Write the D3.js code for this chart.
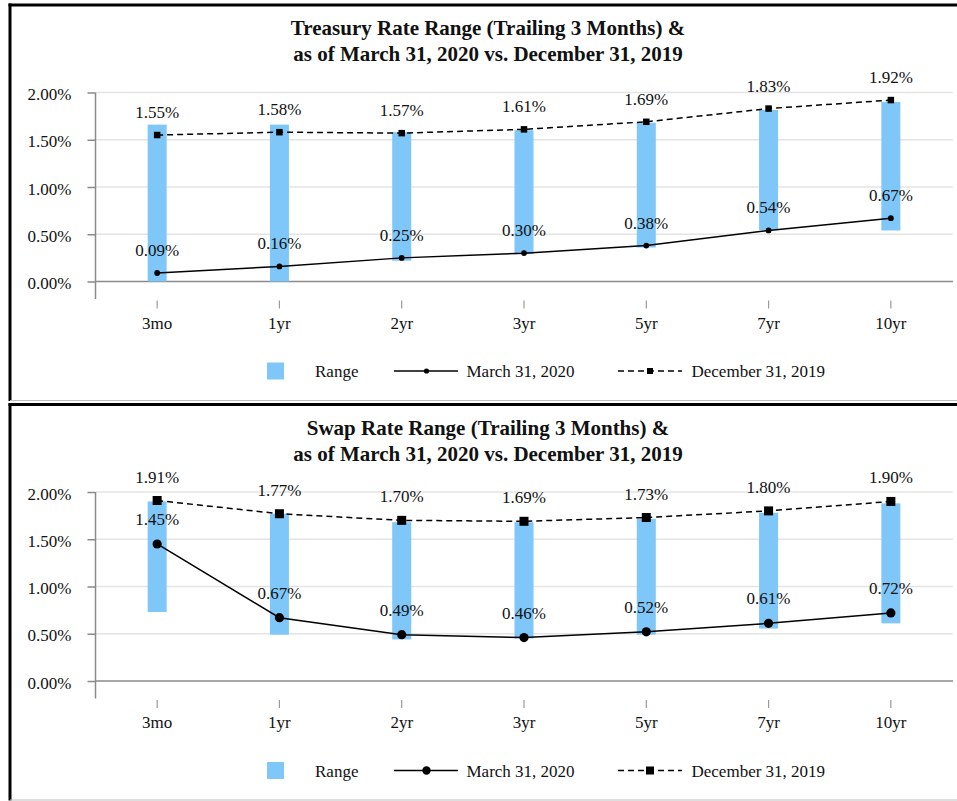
<!DOCTYPE html>
<html>
<head>
<meta charset="utf-8">
<script src="https://cdn.jsdelivr.net/npm/d3@7"></script>
<style>
  html, body { margin: 0; padding: 0; background: #fff; }
  svg { display: block; }
  text { font-family: "Liberation Serif", "Times New Roman", serif; fill: #111; }
</style>
</head>
<body>
<svg id="chart" width="957" height="801"></svg>
<script>
// ---- data ----
const categories = ["3mo", "1yr", "2yr", "3yr", "5yr", "7yr", "10yr"];
const yTickValues = [0, 0.5, 1.0, 1.5, 2.0];
const legendLabels = ["Range", "March 31, 2020", "December 31, 2019"];

const treasuryTitle = ["Treasury Rate Range (Trailing 3 Months) &", "as of March 31, 2020 vs. December 31, 2019"];
const treasuryRangeLow  = [0.00, 0.00, 0.22, 0.29, 0.36, 0.545, 0.54];
const treasuryRangeHigh = [1.66, 1.66, 1.58, 1.60, 1.68, 1.815, 1.90];
const treasuryMar2020   = [0.09, 0.16, 0.25, 0.30, 0.38, 0.54, 0.67];
const treasuryDec2019   = [1.55, 1.58, 1.57, 1.61, 1.69, 1.83, 1.92];

const swapTitle = ["Swap Rate Range (Trailing 3 Months) &", "as of March 31, 2020 vs. December 31, 2019"];
const swapRangeLow  = [0.73, 0.49, 0.44, 0.45, 0.49, 0.555, 0.61];
const swapRangeHigh = [1.90, 1.77, 1.68, 1.68, 1.715, 1.78, 1.88];
const swapMar2020   = [1.45, 0.67, 0.49, 0.46, 0.52, 0.61, 0.72];
const swapDec2019   = [1.91, 1.77, 1.70, 1.69, 1.73, 1.80, 1.90];

// ---- drawing ----
const svg = d3.select("#chart");
const BAR = "#7FC6F9";
const fmt = d => d.toFixed(2) + "%";

function drawPanel(offsetY, title, low, high, mar, dec, big) {
  const g = svg.append("g").attr("transform", `translate(0,${offsetY})`);

  // frame
  g.append("line").attr("x1", 8.5).attr("x2", 957).attr("y1", 5).attr("y2", 5)
    .attr("stroke", "#000").attr("stroke-width", 3);
  g.append("line").attr("x1", 10).attr("x2", 10).attr("y1", 3.5).attr("y2", 401)
    .attr("stroke", "#000").attr("stroke-width", 3);
  g.append("line").attr("x1", 10).attr("x2", 957).attr("y1", 400.5).attr("y2", 400.5)
    .attr("stroke", "#bdbdbd").attr("stroke-width", 1);

  // title
  g.append("text").attr("x", 488).attr("y", 35).attr("text-anchor", "middle")
    .style("font-size", "21px").style("font-weight", "bold").text(title[0]);
  g.append("text").attr("x", 488).attr("y", 61).attr("text-anchor", "middle")
    .style("font-size", "21px").style("font-weight", "bold").text(title[1]);

  const x = d3.scaleBand().domain(categories).range([96, 952]).padding(0);
  const y = d3.scaleLinear().domain([0, 2]).range([281.5, 92.5]);
  const cx = c => x(c) + x.bandwidth() / 2;

  // gridlines
  g.append("g").selectAll("line").data(yTickValues).join("line")
    .attr("x1", 96).attr("x2", 953)
    .attr("y1", d => y(d)).attr("y2", d => y(d))
    .attr("stroke", d => d === 0 ? "#8a8a8a" : "#e4e4e4")
    .attr("stroke-width", 1.5);

  // y axis
  const yAxis = g.append("g").attr("transform", "translate(95.5,0)")
    .call(d3.axisLeft(y).tickValues(yTickValues).tickFormat(fmt).tickSize(8).tickPadding(16));
  yAxis.select(".domain").remove();
  yAxis.selectAll(".tick line").attr("stroke", "#8a8a8a").attr("stroke-width", 1.5);
  yAxis.selectAll(".tick text").style("font-size", "17px")
    .style("font-family", "'Liberation Serif', serif").attr("fill", "#111").attr("dy", "0.42em");
  g.append("line").attr("x1", 95.5).attr("x2", 95.5)
    .attr("y1", y(2)).attr("y2", y(0) + 17.5)
    .attr("stroke", "#8a8a8a").attr("stroke-width", 1.5);

  // x axis (ticks floating below)
  const xAxis = g.append("g").attr("transform", `translate(0,${y(0) + 19})`)
    .call(d3.axisBottom(x).tickSize(8).tickPadding(8));
  xAxis.select(".domain").remove();
  xAxis.selectAll(".tick line").attr("stroke", "#9a9a9a").attr("stroke-width", 1.2);
  xAxis.selectAll(".tick text").style("font-size", "17px")
    .style("font-family", "'Liberation Serif', serif").attr("fill", "#111");

  // range bars
  const bw = 19;
  g.append("g").selectAll("rect").data(categories).join("rect")
    .attr("x", c => cx(c) - bw / 2).attr("width", bw)
    .attr("y", (c, i) => y(high[i]))
    .attr("height", (c, i) => y(low[i]) - y(high[i]))
    .attr("fill", BAR);

  const line = d3.line().x(d => cx(d.c)).y(d => y(d.v));
  const decData = categories.map((c, i) => ({ c, v: dec[i] }));
  const marData = categories.map((c, i) => ({ c, v: mar[i] }));

  g.append("path").datum(decData).attr("d", line).attr("fill", "none")
    .attr("stroke", "#000").attr("stroke-width", 1.5).attr("stroke-dasharray", "6,4");
  g.append("path").datum(marData).attr("d", line).attr("fill", "none")
    .attr("stroke", "#000").attr("stroke-width", 1.5);

  const sq = big ? 9 : 6.5;
  const cr = big ? 4.6 : 2.9;
  g.append("g").selectAll("rect").data(decData).join("rect")
    .attr("x", d => cx(d.c) - sq / 2).attr("y", d => y(d.v) - sq / 2)
    .attr("width", sq).attr("height", sq).attr("fill", "#000");
  g.append("g").selectAll("circle").data(marData).join("circle")
    .attr("cx", d => cx(d.c)).attr("cy", d => y(d.v)).attr("r", cr).attr("fill", "#000");

  // data labels
  const lblOff = big ? 18 : 17;
  g.append("g").selectAll("text").data(decData).join("text")
    .attr("x", d => cx(d.c)).attr("y", d => y(d.v) - lblOff)
    .attr("text-anchor", "middle").style("font-size", "17px").text(d => fmt(d.v));
  g.append("g").selectAll("text").data(marData).join("text")
    .attr("x", d => cx(d.c)).attr("y", d => y(d.v) - (big ? 19 : 17))
    .attr("text-anchor", "middle").style("font-size", "17px").text(d => fmt(d.v));

  // legend
  const ly = 371;
  const lg = g.append("g");
  lg.append("rect").attr("x", 267).attr("y", ly - 8.5).attr("width", 17).attr("height", 17).attr("fill", BAR);
  lg.append("text").attr("x", 315).attr("y", ly + 6).style("font-size", "17px").text(legendLabels[0]);
  lg.append("line").attr("x1", 394).attr("x2", 458).attr("y1", ly).attr("y2", ly)
    .attr("stroke", "#000").attr("stroke-width", 1.5);
  lg.append("circle").attr("cx", 426.5).attr("cy", ly).attr("r", big ? 4.2 : 2.6).attr("fill", "#000");
  lg.append("text").attr("x", 466.5).attr("y", ly + 6).style("font-size", "17px").text(legendLabels[1]);
  lg.append("line").attr("x1", 618).attr("x2", 682).attr("y1", ly).attr("y2", ly)
    .attr("stroke", "#000").attr("stroke-width", 1.5).attr("stroke-dasharray", "6,4");
  const lsq = big ? 8 : 6;
  lg.append("rect").attr("x", 650 - lsq / 2).attr("y", ly - lsq / 2).attr("width", lsq).attr("height", lsq).attr("fill", "#000");
  lg.append("text").attr("x", 691.5).attr("y", ly + 6).style("font-size", "17px").text(legendLabels[2]);
}

drawPanel(0, treasuryTitle, treasuryRangeLow, treasuryRangeHigh, treasuryMar2020, treasuryDec2019, false);
drawPanel(399.5, swapTitle, swapRangeLow, swapRangeHigh, swapMar2020, swapDec2019, true);
</script>
</body>
</html>
